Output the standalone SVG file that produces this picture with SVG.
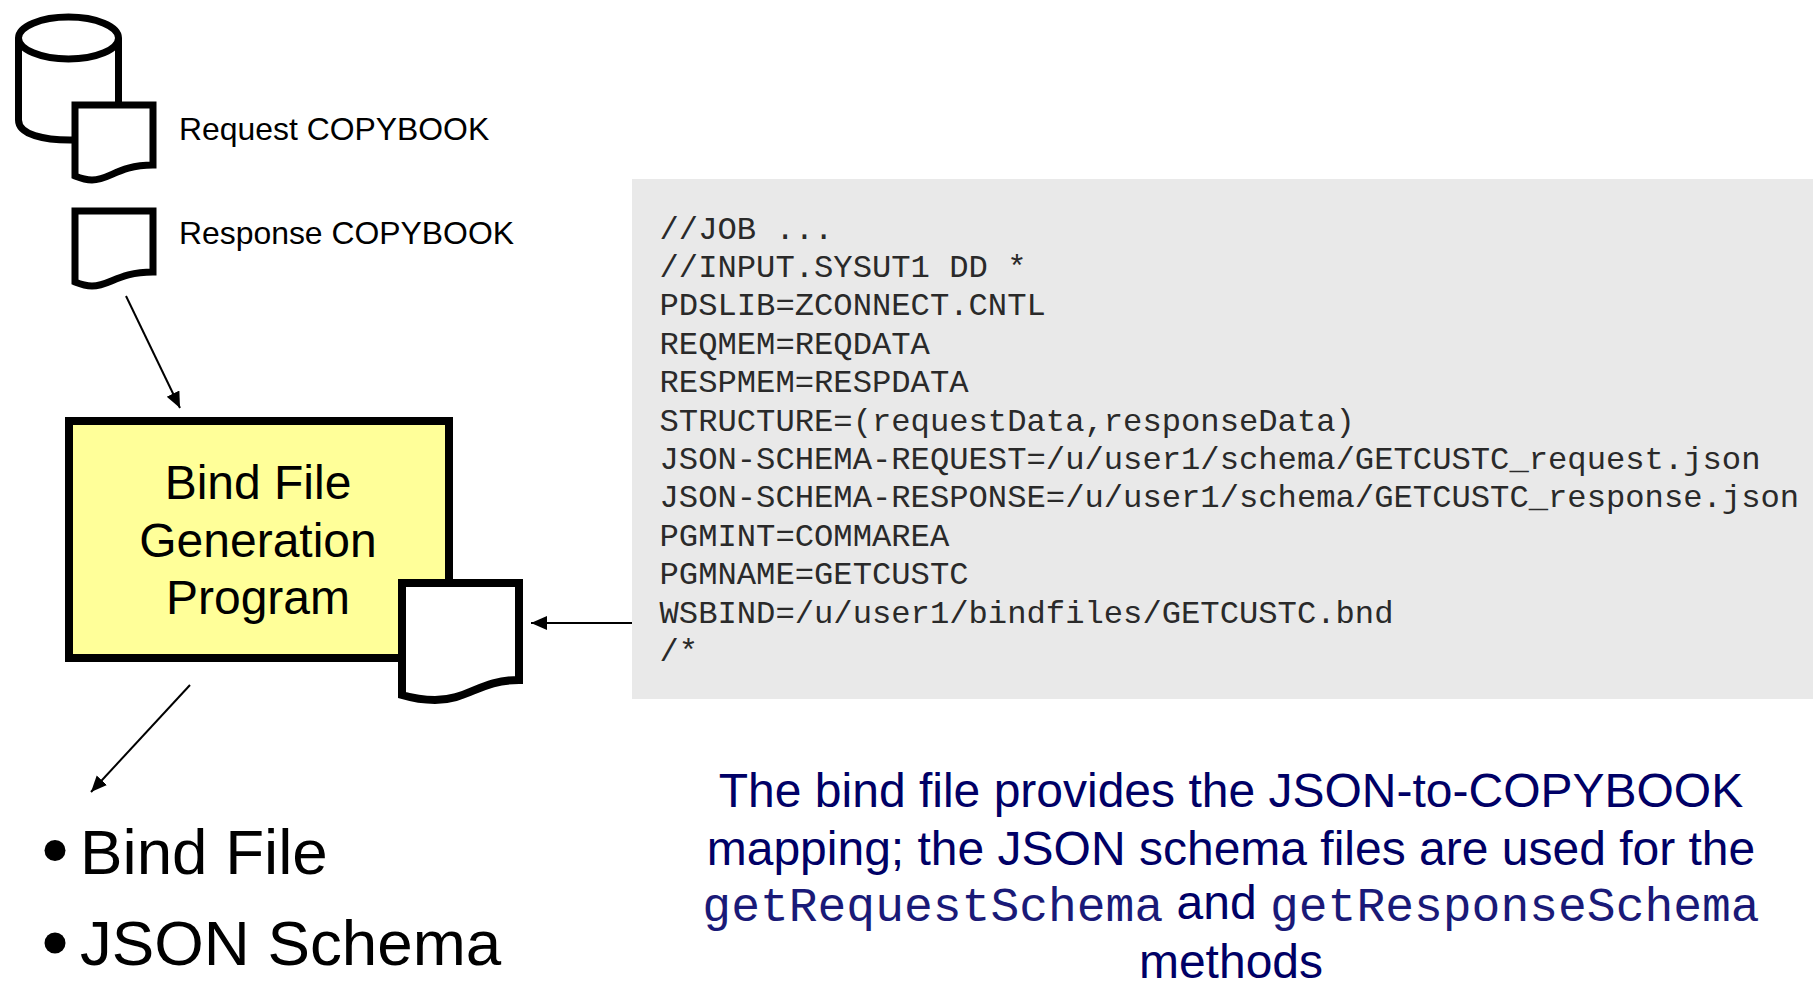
<svg xmlns="http://www.w3.org/2000/svg" width="1813" height="981" viewBox="0 0 1813 981">
<style>
.s{font-family:"Liberation Sans",Arial,sans-serif}
.m{font-family:"Liberation Mono","Courier New",monospace}
.shape{fill:#fff;stroke:#000;stroke-width:7}
.code{font-size:32.2px;fill:#2a2a2a;white-space:pre}
.lab{font-size:31.9px;fill:#000}
.box{font-size:48px;fill:#000;text-anchor:middle}
.big{font-size:63.700px;fill:#000}
.note{font-size:48px;fill:#000066;text-anchor:middle}
.note .m{fill:#1a1a78}
.conn{stroke:#000;stroke-width:2;fill:none;marker-end:url(#ah)}
</style>
<defs>
<marker id="ah" markerUnits="userSpaceOnUse" markerWidth="18" markerHeight="16" refX="16" refY="7" orient="auto"><path d="M0,0L16,7L0,14Z" fill="#000"/></marker>
</defs>
<rect width="1813" height="981" fill="#fff"/>
<g id="code-panel">
<rect x="632" y="179" width="1181" height="520" fill="#e9e9e9"/>
<g class="m code">
<text x="659.500" y="238.500">//JOB ...</text>
<text x="659.500" y="276.900">//INPUT.SYSUT1 DD *</text>
<text x="659.500" y="315.300">PDSLIB=ZCONNECT.CNTL</text>
<text x="659.500" y="353.700">REQMEM=REQDATA</text>
<text x="659.500" y="392.100">RESPMEM=RESPDATA</text>
<text x="659.500" y="430.500">STRUCTURE=(requestData,responseData)</text>
<text x="659.500" y="468.900">JSON-SCHEMA-REQUEST=/u/user1/schema/GETCUSTC_request.json</text>
<text x="659.500" y="507.300">JSON-SCHEMA-RESPONSE=/u/user1/schema/GETCUSTC_response.json</text>
<text x="659.500" y="545.700">PGMINT=COMMAREA</text>
<text x="659.500" y="584.100">PGMNAME=GETCUSTC</text>
<text x="659.500" y="622.500">WSBIND=/u/user1/bindfiles/GETCUSTC.bnd</text>
<text x="659.500" y="660.900">/*</text>
</g>
</g>
<g id="request-copybook">
<path class="shape" style="fill:none" d="M18.500,38 V120 C18.500,135 45,140 70,140 H90 M118.500,38 V105"/>
<ellipse class="shape" cx="68.500" cy="38" rx="50" ry="21"/>
<path class="shape" d="M75,105 H153 V165 C118,165 110,180 92,180 C85,180 80,178 75,176 Z"/>
<text class="s lab" x="179" y="140">Request COPYBOOK</text>
</g>
<g id="response-copybook">
<path class="shape" d="M75,211 H153 V272 C118,272 110,286 92,286 C85,286 80,284 75,282 Z"/>
<text class="s lab" x="179" y="244">Response COPYBOOK</text>
</g>
<g id="bind-program">
<rect x="69" y="421" width="380" height="237" fill="#ffff99" stroke="#000" stroke-width="8"/>
<text class="s box" x="258" y="499">Bind File</text>
<text class="s box" x="258" y="557">Generation</text>
<text class="s box" x="258" y="614">Program</text>
<path class="shape" style="stroke-width:8" d="M402,583 H519 V680 C480,680 468,700 435,700 C422,700 412,698 402,695 Z"/>
</g>
<g id="connectors">
<line class="conn" x1="126" y1="296" x2="180" y2="408"/>
<line class="conn" x1="632" y1="623" x2="531" y2="623"/>
<line class="conn" x1="190" y1="685" x2="91" y2="792"/>
</g>
<g id="outputs">
<circle cx="55" cy="850.500" r="10.500"/>
<text class="s big" x="80" y="874">Bind File</text>
<circle cx="55" cy="943" r="10.500"/>
<text class="s big" x="80" y="965">JSON Schema</text>
</g>
<g id="note">
<text class="s note" x="1231" y="807">The bind file provides the JSON-to-COPYBOOK</text>
<text class="s note" x="1231" y="865">mapping; the JSON schema files are used for the</text>
<text class="s note" x="1231" y="919"><tspan class="m" dy="2">getRequestSchema</tspan><tspan dy="-2"> and </tspan><tspan class="m" dy="2">getResponseSchema</tspan></text>
<text class="s note" x="1231" y="977.500">methods</text>
</g>
</svg>
